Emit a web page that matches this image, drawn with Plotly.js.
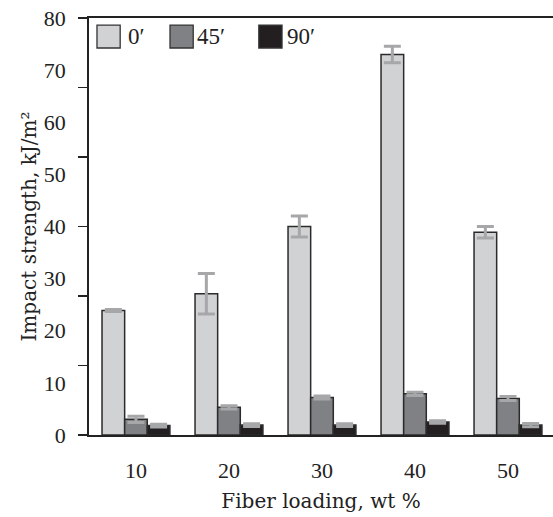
<!DOCTYPE html>
<html>
<head>
<meta charset="utf-8">
<script src="https://cdn.plot.ly/plotly-3.0.1.min.js"></script>
<style>html,body{margin:0;padding:0;background:#fff;}#chart{width:553px;height:517px;}</style>
</head>
<body>
<div id="chart"></div>
<script>
// ---- data ----
var categories = ["10", "20", "30", "40", "50"];
var seriesNames = ["0\u2032", "45\u2032", "90\u2032"];
var seriesColors = ["#d1d2d4", "#808184", "#231f20"];
var values0 = [23.9, 27.1, 40.0, 73.0, 38.9];
var errors0 = [0.2, 3.9, 2.0, 1.6, 1.1];
var values45 = [3.0, 5.3, 7.2, 7.9, 7.0];
var errors45 = [0.6, 0.3, 0.3, 0.3, 0.4];
var values90 = [1.8, 1.9, 1.9, 2.5, 1.9];
var errors90 = [0.25, 0.25, 0.25, 0.25, 0.3];
var yTickVals = [0, 10, 20, 30, 40, 50, 60, 70, 80];

var FONT = "Liberation Serif, DejaVu Serif, serif";
var TFONT = "DejaVu Serif, Liberation Serif, serif";
var allValues = [values0, values45, values90];
var allErrors = [errors0, errors45, errors90];

var traces = allValues.map(function (vals, i) {
  return {
    type: "bar",
    name: seriesNames[i],
    x: categories,
    y: vals,
    marker: { color: seriesColors[i], line: { color: "#2b2b2b", width: 1.5 } },
    error_y: { type: "data", array: allErrors[i], visible: true, color: "#a6a7a9", thickness: 3, width: 8.5 },
    showlegend: false,
    hoverinfo: "x+y"
  };
});

// manual legend (large square swatches)
var legendSwatchX = [0.0172, 0.1746, 0.366];
var legendTextX = [0.080, 0.2290, 0.4220];
var shapes = [];
var annotations = [];
seriesNames.forEach(function (n, i) {
  shapes.push({
    type: "rect", xref: "paper", yref: "paper",
    x0: legendSwatchX[i], x1: legendSwatchX[i] + 0.05,
    y0: 0.928, y1: 0.983,
    fillcolor: seriesColors[i], line: { color: "#333", width: 1.3 }
  });
  annotations.push({
    xref: "paper", yref: "paper", x: legendTextX[i], y: 0.956,
    xanchor: "left", yanchor: "middle", showarrow: false,
    text: n, font: { family: FONT, size: 23, color: "#222" }
  });
});

var layout = {
  width: 553, height: 517,
  margin: { l: 89, r: 0, t: 18, b: 82 },
  paper_bgcolor: "#fff", plot_bgcolor: "#fff",
  font: { family: FONT, size: 22, color: "#222" },
  barmode: "group",
  bargap: 0.27,
  bargroupgap: 0,
  xaxis: {
    type: "category",
    range: [-0.505, 4.484],
    showline: true, mirror: true, linecolor: "#222", linewidth: 1.8,
    ticks: "", showgrid: false, zeroline: false,
    ticklabelstandoff: 15,
    tickfont: { family: FONT, size: 22, color: "#222" },
    title: { text: "Fiber loading, wt %", font: { family: TFONT, size: 20, color: "#222" }, standoff: 12 }
  },
  yaxis: {
    range: [0, 80],
    tickmode: "array", tickvals: yTickVals,
    ticks: "", showgrid: false, zeroline: false,
    showline: true, linecolor: "#222", linewidth: 1.8,
    ticklabelstandoff: 17,
    tickfont: { family: FONT, size: 22, color: "#222" },
    minor: { dtick: 80 / 6, tick0: 0, ticks: "outside", ticklen: 9, tickwidth: 1.5, tickcolor: "#222", showgrid: false },
    title: { text: "Impact strength, kJ/m\u00b2", font: { family: TFONT, size: 20, color: "#222" }, standoff: 2 }
  },
  shapes: shapes,
  annotations: annotations
};

Plotly.newPlot("chart", traces, layout, { staticPlot: true, displayModeBar: false });
</script>
</body>
</html>
